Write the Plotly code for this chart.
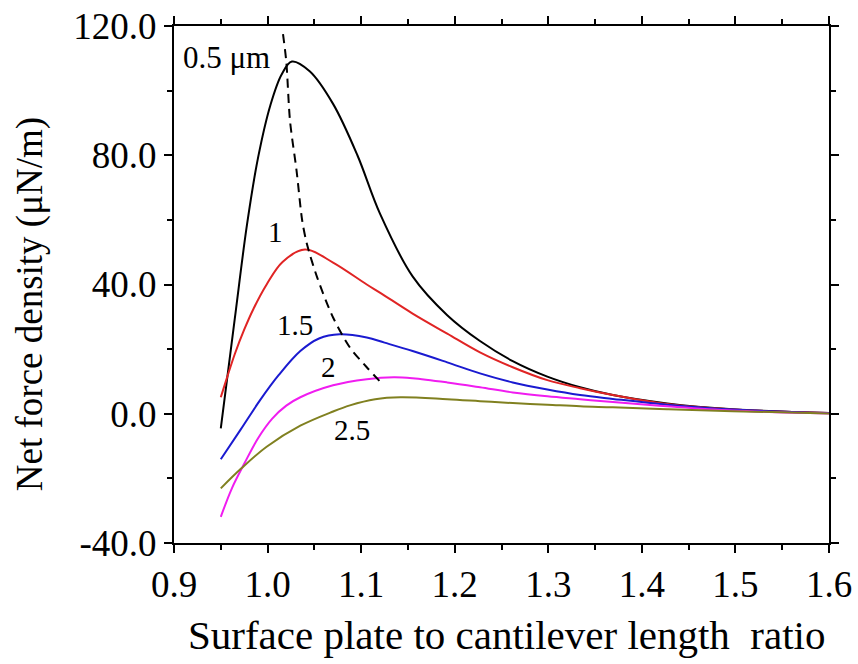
import plotly.graph_objects as go

# ---- data ----
x_05 = [0.950, 0.965, 0.978, 0.990, 1.003, 1.015, 1.026, 1.045, 1.070, 1.096, 1.120, 1.155, 1.192, 1.227, 1.262, 1.299, 1.334, 1.369, 1.427, 1.497, 1.600]
y_05 = [-4.5, 29.5, 58.5, 79.5, 95.5, 105.0, 109.0, 106.0, 95.9, 80.0, 62.0, 42.5, 30.5, 22.5, 16.3, 11.5, 8.2, 5.8, 3.2, 1.4, 0.2]

x_10 = [0.950, 0.957, 0.965, 0.975, 0.985, 0.999, 1.016, 1.040, 1.070, 1.106, 1.120, 1.155, 1.192, 1.227, 1.262, 1.299, 1.334, 1.369, 1.427, 1.497, 1.600]
y_10 = [5.1, 11.5, 18.5, 26.0, 32.5, 40.0, 47.0, 50.8, 46.8, 40.0, 37.5, 31.0, 24.8, 19.0, 14.4, 10.4, 7.9, 5.8, 3.0, 1.3, 0.2]

x_15 = [0.950, 0.971, 0.992, 1.012, 1.035, 1.055, 1.077, 1.106, 1.125, 1.155, 1.192, 1.227, 1.262, 1.299, 1.334, 1.369, 1.427, 1.497, 1.600]
y_15 = [-14.1, -5.0, 4.2, 12.0, 19.4, 23.3, 24.6, 23.6, 22.0, 19.4, 15.9, 12.5, 9.7, 7.5, 5.8, 4.6, 2.8, 1.3, 0.2]

x_20 = [0.950, 0.962, 0.975, 0.990, 1.005, 1.020, 1.035, 1.070, 1.106, 1.135, 1.155, 1.192, 1.227, 1.262, 1.299, 1.334, 1.369, 1.427, 1.497, 1.600]
y_20 = [-31.9, -23.0, -15.5, -7.5, -1.5, 2.5, 5.1, 8.8, 10.7, 11.3, 11.0, 9.7, 8.2, 6.6, 5.4, 4.5, 3.6, 2.3, 1.0, 0.1]

x_25 = [0.950, 0.972, 0.999, 1.035, 1.070, 1.088, 1.115, 1.142, 1.192, 1.227, 1.262, 1.299, 1.334, 1.369, 1.427, 1.497, 1.600]
y_25 = [-23.1, -16.9, -10.2, -3.7, 0.7, 2.6, 4.5, 5.1, 4.5, 3.9, 3.3, 2.8, 2.3, 2.0, 1.4, 0.8, 0.1]

x_peak = [1.0165, 1.020, 1.024, 1.031, 1.037, 1.042, 1.053, 1.070, 1.088, 1.106, 1.122]
y_peak = [117.5, 109.0, 90.6, 75.2, 59.8, 52.6, 42.2, 29.8, 20.5, 14.4, 9.4]

series_labels = ["0.5 \u03bcm", "1", "1.5", "2", "2.5"]

x_tick_vals = [0.9, 1.0, 1.1, 1.2, 1.3, 1.4, 1.5, 1.6]
x_tick_text = ["0.9", "1.0", "1.1", "1.2", "1.3", "1.4", "1.5", "1.6"]
y_tick_vals = [-40, 0, 40, 80, 120]
y_tick_text = ["-40.0", "0.0", "40.0", "80.0", "120.0"]

x_title = "Surface plate to cantilever length  ratio"
y_title = "Net force density (\u03bcN/m)"

# ---- figure ----
FONT = "Liberation Serif"
fig = go.Figure()

curves = [
    (x_05, y_05, "#000000"),
    (x_10, y_10, "#e02424"),
    (x_15, y_15, "#1a1ad0"),
    (x_20, y_20, "#f01cf0"),
    (x_25, y_25, "#808020"),
]
for (xs, ys, col), name in zip(curves, series_labels):
    fig.add_trace(go.Scatter(x=xs, y=ys, mode="lines", name=name,
                             line=dict(color=col, width=2, shape="spline", smoothing=1.0),
                             showlegend=False))

fig.add_trace(go.Scatter(x=x_peak, y=y_peak, mode="lines", name="peak",
                         line=dict(color="#000000", width=2, dash="9px,6px", shape="spline", smoothing=0.8),
                         showlegend=False))

label_pos = [(0.9566, 110.1), (1.008, 56.1), (1.029, 27.6), (1.0646, 14.4), (1.090, -5.1)]
label_size = [31, 29, 29, 29, 29]
for (lx, ly), txt, sz in zip(label_pos, series_labels, label_size):
    fig.add_annotation(x=lx, y=ly, text=txt, showarrow=False, xanchor="center", yanchor="middle",
                       font=dict(family=FONT, size=sz, color="#000000"))

fig.add_annotation(xref="paper", yref="paper", x=0.508, y=-0.178, text=x_title, showarrow=False,
                   xanchor="center", yanchor="middle", font=dict(family=FONT, size=41, color="#000000"))
fig.add_annotation(xref="paper", yref="paper", x=-0.2198, y=0.462, text=y_title, showarrow=False,
                   textangle=-90, xanchor="center", yanchor="middle",
                   font=dict(family=FONT, size=37, color="#000000"))

axis_common = dict(showgrid=False, zeroline=False, showline=True, linecolor="#000000", linewidth=2,
                   mirror="ticks", ticks="outside", ticklen=8, tickwidth=1.5, tickcolor="#000000",
                   automargin=False,
                   tickfont=dict(family=FONT, size=37, color="#000000"))

fig.update_xaxes(range=[0.9, 1.6], tickmode="array", tickvals=x_tick_vals, ticktext=x_tick_text,
                 minor=dict(tickmode="linear", tick0=0.9, dtick=0.05, ticks="outside", ticklen=5,
                            tickwidth=1.5, tickcolor="#000000"),
                 **axis_common)
fig.update_yaxes(range=[-40, 120], tickmode="array", tickvals=y_tick_vals, ticktext=y_tick_text,
                 minor=dict(tickmode="linear", tick0=0, dtick=20, ticks="outside", ticklen=5,
                            tickwidth=1.5, tickcolor="#000000"),
                 **axis_common)

fig.update_layout(width=858, height=664, plot_bgcolor="#ffffff", paper_bgcolor="#ffffff",
                  margin=dict(l=174, r=29, t=26, b=121, autoexpand=False),
                  font=dict(family=FONT, color="#000000"))

fig.write_html("out.html", config={"displayModeBar": False},
               post_script="document.body.style.margin='0';document.body.style.overflow='hidden';")
